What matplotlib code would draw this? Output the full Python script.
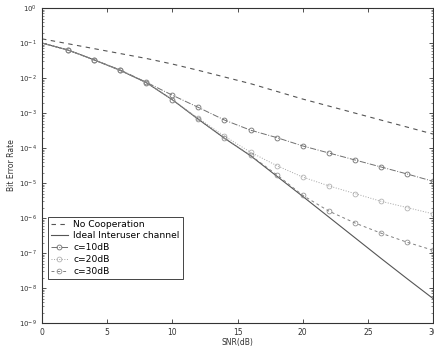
import numpy as np
import matplotlib.pyplot as plt
from matplotlib.ticker import LogLocator, NullFormatter, MultipleLocator

snr = [0, 2, 4, 6, 8, 10, 12, 14, 16, 18, 20, 22, 24, 26, 28, 30]

# log10(BER)
no_coop = [-0.88, -1.02, -1.16, -1.30, -1.44, -1.60, -1.78, -1.97, -2.16, -2.38, -2.60, -2.80, -3.00, -3.20, -3.40, -3.60]
ideal = [-1.00, -1.20, -1.48, -1.78, -2.13, -2.62, -3.18, -3.72, -4.22, -4.80, -5.38, -5.97, -6.56, -7.15, -7.73, -8.30]
c10 = [-1.00, -1.20, -1.48, -1.77, -2.12, -2.49, -2.84, -3.20, -3.49, -3.70, -3.94, -4.14, -4.34, -4.54, -4.74, -4.95]
c20 = [-1.00, -1.20, -1.48, -1.78, -2.13, -2.62, -3.15, -3.66, -4.12, -4.50, -4.83, -5.08, -5.30, -5.52, -5.70, -5.88]
c30 = [-1.00, -1.20, -1.48, -1.78, -2.13, -2.62, -3.18, -3.72, -4.21, -4.76, -5.35, -5.80, -6.14, -6.43, -6.69, -6.92]

labels = ["No Cooperation", "Ideal Interuser channel", "c=10dB", "c=20dB", "c=30dB"]

fig = plt.figure(figsize=(4.34, 3.5), dpi=100)
ax = fig.add_axes([0.0968, 0.077, 0.901, 0.9])

x = np.array(snr)
ax.semilogy(x, 10 ** np.array(no_coop), '--', color='#555555', lw=0.8, dashes=(4, 4), label=labels[0])
ax.semilogy(x, 10 ** np.array(ideal), '-', color='#555555', lw=0.8, label=labels[1])
ax.semilogy(x, 10 ** np.array(c10), '-.', color='#707070', lw=0.7, marker='o', ms=3.5,
            mfc='none', mew=0.6, markevery=list(range(1, 16)), label=labels[2])
ax.semilogy(x, 10 ** np.array(c20), ':', color='#a5a5a5', lw=0.7, marker='o', ms=3.5,
            mfc='none', mew=0.5, markevery=list(range(1, 16)), label=labels[3])
ax.semilogy(x, 10 ** np.array(c30), '--', color='#808080', lw=0.7, marker='o', ms=3.5,
            mfc='none', mew=0.5, dashes=(3, 3), markevery=list(range(1, 16)), label=labels[4])

ax.set_xlim(0, 30)
ax.set_ylim(1e-9, 1e0)
ax.xaxis.set_major_locator(MultipleLocator(5))
ax.yaxis.set_major_locator(LogLocator(base=10, numticks=12))
ax.yaxis.set_minor_locator(LogLocator(base=10, subs=np.arange(2, 10), numticks=12))
ax.yaxis.set_minor_formatter(NullFormatter())
ax.tick_params(which='both', direction='in', top=True, right=True, labelsize=5, colors='#333333')
ax.tick_params(axis='x', labelsize=5.5)
ax.tick_params(which='major', length=3, width=0.6)
ax.tick_params(which='minor', length=1.5, width=0.4)
for s in ax.spines.values():
    s.set_color('#333333')
    s.set_linewidth(0.8)

ax.set_xlabel("SNR(dB)", fontsize=5.5, labelpad=1, color='#333333')
ax.set_ylabel("Bit Error Rate", fontsize=5.5, labelpad=2, color='#333333')

leg = ax.legend(loc='lower left', bbox_to_anchor=(0.015, 0.14), fontsize=6.6,
                fancybox=False, framealpha=1, edgecolor='#444444', borderpad=0.35,
                labelspacing=0.3, handlelength=1.8, handletextpad=0.6, borderaxespad=0)
leg.get_frame().set_linewidth(0.7)

fig.savefig("out.png", dpi=100)
